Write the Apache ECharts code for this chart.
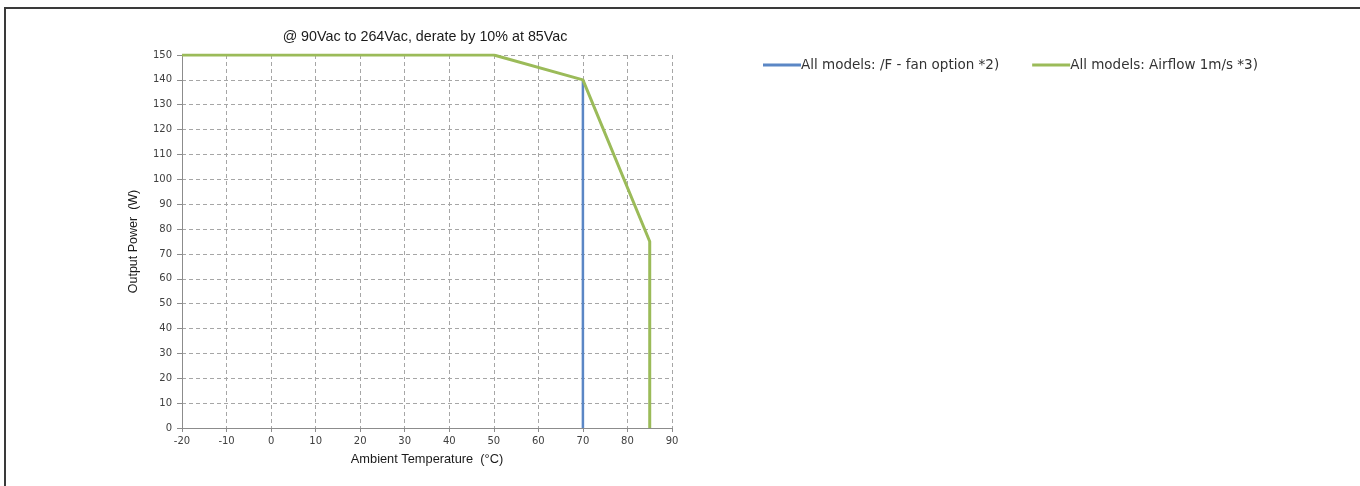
<!DOCTYPE html>
<html>
<head>
<meta charset="utf-8">
<script src="https://cdn.jsdelivr.net/npm/echarts@6/dist/echarts.min.js"></script>
<style>
html,body{margin:0;padding:0;background:#fff;}
#frame{position:absolute;left:4px;top:7px;right:0;bottom:0;border-left:2px solid #3a3a3a;border-top:2px solid #3a3a3a;}
#chart{position:absolute;left:0;top:0;width:1360px;height:486px;}
</style>
</head>
<body>
<div id="frame"></div>
<div id="chart"></div>
<script>
const titleText = '@ 90Vac to 264Vac, derate by 10% at 85Vac';
const xAxisName = 'Ambient Temperature  (\u00B0C)';
const yAxisName = 'Output Power  (W)';
const seriesNames = ['All models: /F - fan option *2)', 'All models: Airflow 1m/s *3)'];
// [temperature °C, power W]
const fanOptionPoints = [[70, 0], [70, 140]];
const airflowPoints = [[-20, 150], [50, 150], [70, 140], [85, 75], [85, 0]];
const xMin = -20, xMax = 90, xStep = 10;
const yMin = 0, yMax = 150, yStep = 10;

const chart = echarts.init(document.getElementById('chart'), null, {renderer: 'canvas'});
const labelFont = 'DejaVu Sans';
const nameFont = 'Liberation Sans Narrow, Liberation Sans';
chart.setOption({
  backgroundColor: 'transparent',
  animation: false,
  title: {
    text: titleText,
    left: 420, top: 25, textAlign: 'center',
    textStyle: {fontFamily: nameFont, fontSize: 14.3, fontWeight: 'normal', color: '#1a1a1a'}
  },
  legend: {
    left: 758, top: 53,
    icon: 'rect', itemWidth: 38, itemHeight: 3, itemGap: 33,
    textStyle: {fontFamily: 'DejaVu Sans', fontSize: 13.5, color: '#333', padding: [2, 0, 0, -5]},
    data: seriesNames
  },
  grid: {left: 182, right: 688, top: 55, bottom: 58, containLabel: false},
  xAxis: {
    type: 'value', min: xMin, max: xMax, interval: xStep,
    name: xAxisName, nameLocation: 'middle', nameGap: 25,
    nameTextStyle: {fontFamily: nameFont, fontSize: 12.8, color: '#1a1a1a'},
    axisLine: {show: true, onZero: false, lineStyle: {color: '#8c8c8c', width: 1}},
    axisTick: {show: true, length: 4, lineStyle: {color: '#8c8c8c'}},
    axisLabel: {fontFamily: labelFont, fontSize: 10, color: '#404040', margin: 8},
    splitLine: {show: true, lineStyle: {color: '#a6a6a6', type: [4, 3], width: 1}}
  },
  yAxis: {
    type: 'value', min: yMin, max: yMax, interval: yStep,
    name: yAxisName, nameLocation: 'middle', nameGap: 42, nameRotate: 90,
    nameTextStyle: {fontFamily: nameFont, fontSize: 12.5, color: '#1a1a1a'},
    axisLine: {show: true, onZero: false, lineStyle: {color: '#8c8c8c', width: 1}},
    axisTick: {show: true, length: 5, lineStyle: {color: '#8c8c8c'}},
    axisLabel: {fontFamily: labelFont, fontSize: 10, color: '#404040', margin: 10},
    splitLine: {show: true, lineStyle: {color: '#a6a6a6', type: [4, 3], width: 1}}
  },
  series: [
    {
      name: seriesNames[0], type: 'line', data: fanOptionPoints,
      symbol: 'none', color: '#5b87c5',
      lineStyle: {width: 2.5, color: '#5b87c5'}, z: 3
    },
    {
      name: seriesNames[1], type: 'line', data: airflowPoints,
      symbol: 'none', color: '#9bbb59',
      lineStyle: {width: 3, color: '#9bbb59'}, z: 4
    }
  ]
});
</script>
</body>
</html>
